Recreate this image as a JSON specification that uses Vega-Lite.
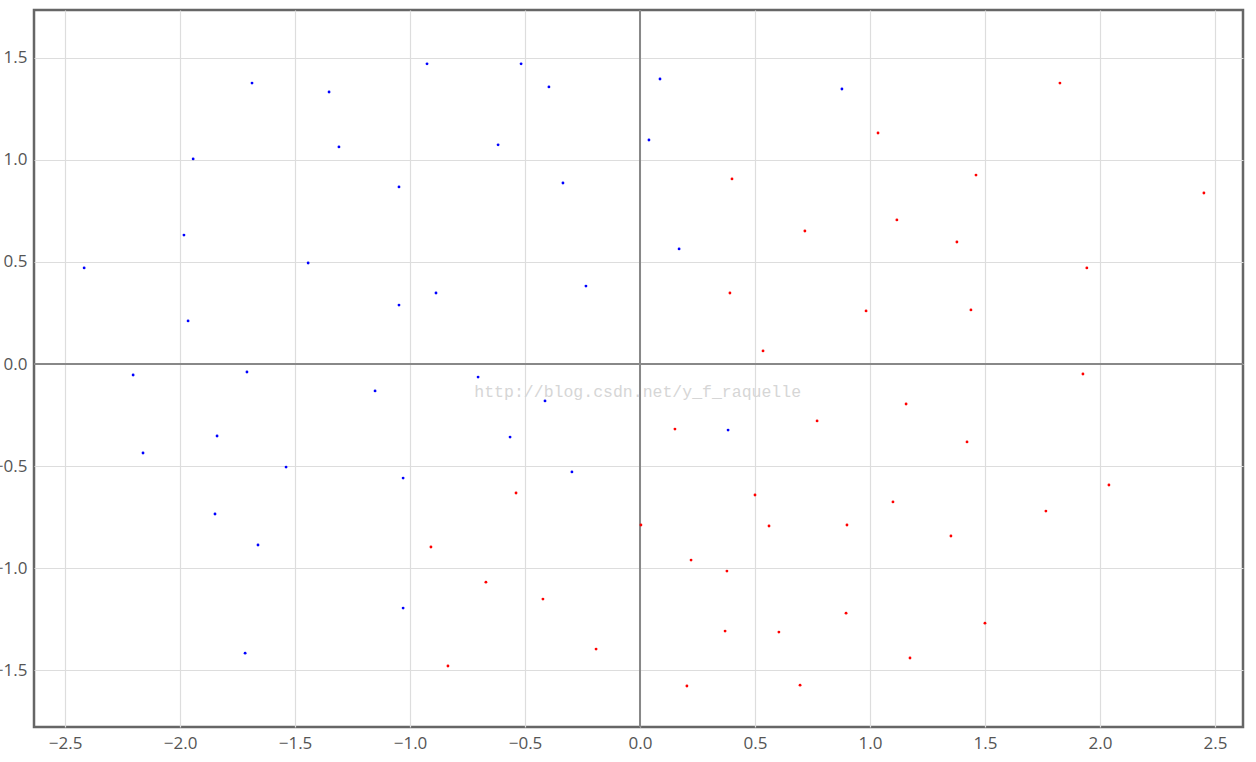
{
  "$schema": "https://vega.github.io/schema/vega-lite/v6.json",
  "width": 1209,
  "height": 717,
  "autosize": {"type": "none"},
  "padding": {"left": 34, "top": 10, "right": 13, "bottom": 35},
  "background": "white",
  "config": {
    "view": {"stroke": "#666666", "strokeWidth": 2.5},
    "font": "Open Sans"
  },
  "datasets": {
    "pts": [
      {"x": -2.417, "y": 0.471, "c": "blue"},
      {"x": -2.204, "y": -0.054, "c": "blue"},
      {"x": -2.161, "y": -0.436, "c": "blue"},
      {"x": -1.965, "y": 0.211, "c": "blue"},
      {"x": -1.983, "y": 0.632, "c": "blue"},
      {"x": -1.943, "y": 1.005, "c": "blue"},
      {"x": -1.839, "y": -0.353, "c": "blue"},
      {"x": -1.848, "y": -0.735, "c": "blue"},
      {"x": -1.709, "y": -0.039, "c": "blue"},
      {"x": -1.687, "y": 1.377, "c": "blue"},
      {"x": -1.661, "y": -0.887, "c": "blue"},
      {"x": -1.717, "y": -1.417, "c": "blue"},
      {"x": -1.539, "y": -0.505, "c": "blue"},
      {"x": -1.443, "y": 0.495, "c": "blue"},
      {"x": -1.352, "y": 1.333, "c": "blue"},
      {"x": -1.309, "y": 1.064, "c": "blue"},
      {"x": -1.152, "y": -0.132, "c": "blue"},
      {"x": -1.048, "y": 0.868, "c": "blue"},
      {"x": -1.048, "y": 0.289, "c": "blue"},
      {"x": -1.030, "y": -0.559, "c": "blue"},
      {"x": -1.030, "y": -1.196, "c": "blue"},
      {"x": -0.926, "y": 1.471, "c": "blue"},
      {"x": -0.887, "y": 0.348, "c": "blue"},
      {"x": -0.704, "y": -0.064, "c": "blue"},
      {"x": -0.617, "y": 1.074, "c": "blue"},
      {"x": -0.565, "y": -0.358, "c": "blue"},
      {"x": -0.517, "y": 1.471, "c": "blue"},
      {"x": -0.413, "y": -0.181, "c": "blue"},
      {"x": -0.396, "y": 1.358, "c": "blue"},
      {"x": -0.335, "y": 0.887, "c": "blue"},
      {"x": -0.296, "y": -0.529, "c": "blue"},
      {"x": -0.235, "y": 0.382, "c": "blue"},
      {"x": 0.039, "y": 1.098, "c": "blue"},
      {"x": 0.087, "y": 1.397, "c": "blue"},
      {"x": 0.170, "y": 0.564, "c": "blue"},
      {"x": 0.383, "y": -0.324, "c": "blue"},
      {"x": 0.878, "y": 1.348, "c": "blue"},
      {"x": -0.909, "y": -0.897, "c": "red"},
      {"x": -0.835, "y": -1.480, "c": "red"},
      {"x": -0.670, "y": -1.069, "c": "red"},
      {"x": -0.539, "y": -0.632, "c": "red"},
      {"x": -0.422, "y": -1.152, "c": "red"},
      {"x": -0.191, "y": -1.397, "c": "red"},
      {"x": 0.004, "y": -0.789, "c": "red"},
      {"x": 0.152, "y": -0.319, "c": "red"},
      {"x": 0.204, "y": -1.578, "c": "red"},
      {"x": 0.222, "y": -0.961, "c": "red"},
      {"x": 0.370, "y": -1.309, "c": "red"},
      {"x": 0.378, "y": -1.015, "c": "red"},
      {"x": 0.391, "y": 0.348, "c": "red"},
      {"x": 0.400, "y": 0.907, "c": "red"},
      {"x": 0.500, "y": -0.642, "c": "red"},
      {"x": 0.535, "y": 0.064, "c": "red"},
      {"x": 0.561, "y": -0.794, "c": "red"},
      {"x": 0.604, "y": -1.314, "c": "red"},
      {"x": 0.696, "y": -1.574, "c": "red"},
      {"x": 0.717, "y": 0.652, "c": "red"},
      {"x": 0.770, "y": -0.279, "c": "red"},
      {"x": 0.896, "y": -1.221, "c": "red"},
      {"x": 0.900, "y": -0.789, "c": "red"},
      {"x": 0.983, "y": 0.260, "c": "red"},
      {"x": 1.035, "y": 1.132, "c": "red"},
      {"x": 1.100, "y": -0.676, "c": "red"},
      {"x": 1.117, "y": 0.706, "c": "red"},
      {"x": 1.157, "y": -0.196, "c": "red"},
      {"x": 1.174, "y": -1.441, "c": "red"},
      {"x": 1.352, "y": -0.843, "c": "red"},
      {"x": 1.378, "y": 0.598, "c": "red"},
      {"x": 1.422, "y": -0.382, "c": "red"},
      {"x": 1.439, "y": 0.265, "c": "red"},
      {"x": 1.461, "y": 0.926, "c": "red"},
      {"x": 1.500, "y": -1.270, "c": "red"},
      {"x": 1.765, "y": -0.721, "c": "red"},
      {"x": 1.826, "y": 1.377, "c": "red"},
      {"x": 1.926, "y": -0.049, "c": "red"},
      {"x": 1.943, "y": 0.471, "c": "red"},
      {"x": 2.039, "y": -0.593, "c": "red"},
      {"x": 2.452, "y": 0.838, "c": "red"}
    ]
  },
  "layer": [
    {
      "data": {"values": [{"v": 0}]},
      "mark": {"type": "rule", "color": "#888888", "strokeWidth": 2},
      "encoding": {
        "x": {"field": "v", "type": "quantitative", "scale": {"domain": [-2.635, 2.622], "nice": false, "zero": false},
          "axis": {"values": [-2.5, -2, -1.5, -1, -0.5, 0, 0.5, 1, 1.5, 2, 2.5], "format": ".1f", "title": null, "grid": true, "gridColor": "#dddddd", "gridWidth": 1.2, "domain": false, "ticks": false, "labelPadding": 8, "labelFontSize": 17, "labelColor": "#555555", "labelFont": "Open Sans"}}
      }
    },
    {
      "data": {"values": [{"v": 0}]},
      "mark": {"type": "rule", "color": "#888888", "strokeWidth": 2},
      "encoding": {
        "y": {"field": "v", "type": "quantitative", "scale": {"domain": [-1.779, 1.735], "nice": false, "zero": false},
          "axis": {"values": [-1.5, -1, -0.5, 0, 0.5, 1, 1.5], "format": ".1f", "title": null, "grid": true, "gridColor": "#dddddd", "gridWidth": 1.2, "domain": false, "ticks": false, "labelPadding": 7, "labelFontSize": 17, "labelColor": "#555555", "labelFont": "Open Sans"}}
      }
    },
    {
      "data": {"values": [{"x": -0.01, "y": -0.137, "t": "http://blog.csdn.net/y_f_raquelle"}]},
      "mark": {"type": "text", "font": "Liberation Mono", "fontSize": 16.5, "color": "#d6d6d6", "align": "center", "baseline": "middle"},
      "encoding": {
        "x": {"field": "x", "type": "quantitative"},
        "y": {"field": "y", "type": "quantitative"},
        "text": {"field": "t"}
      }
    },
    {
      "data": {"name": "pts"},
      "mark": {"type": "circle", "size": 8, "opacity": 1},
      "encoding": {
        "x": {"field": "x", "type": "quantitative"},
        "y": {"field": "y", "type": "quantitative"},
        "color": {"field": "c", "type": "nominal", "scale": {"domain": ["blue", "red"], "range": ["#0000ff", "#ff0000"]}, "legend": null}
      }
    }
  ]
}
